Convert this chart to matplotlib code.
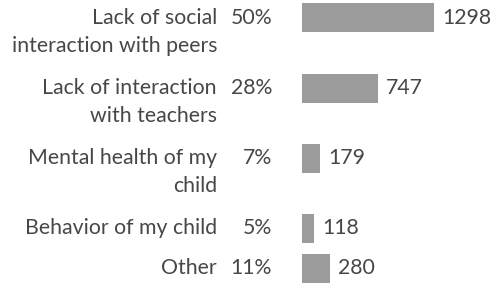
import matplotlib
matplotlib.use("Agg")
import matplotlib.pyplot as plt
from matplotlib.transforms import blended_transform_factory

categories = ["Lack of social\ninteraction with peers",
              "Lack of interaction\nwith teachers",
              "Mental health of my\nchild",
              "Behavior of my child",
              "Other"]
percents = ["50%", "28%", "7%", "5%", "11%"]
counts = [1298, 747, 179, 118, 280]

W, H = 492, 284
fig = plt.figure(figsize=(W / 100, H / 100), dpi=100)
x0 = 302
ax = fig.add_axes([x0 / W, 0, (W - x0) / W, 1])
ax.set_xlim(0, 1298 * (W - x0) / 132)
ax.set_ylim(H, 0)
ax.axis("off")

ypos = [17.5, 88, 158, 228, 268]
ax.barh(ypos, counts, height=29, color="#9b9b9b", align="center")

tc = "#474747"
fs = 15.3
font = "Lato"
tr = blended_transform_factory(fig.transFigure, ax.transData)
for yc, cat, pct, c in zip(ypos, categories, percents, counts):
    for i, line in enumerate(cat.split("\n")):
        ax.text(217 / W, yc + i * 28, line, transform=tr, ha="right", va="center",
                fontsize=fs, color=tc, family=font)
    ax.text(272 / W, yc, pct, transform=tr, ha="right", va="center",
            fontsize=fs, color=tc, family=font)
    ax.annotate(str(c), (c, yc), xytext=(8, 0), textcoords="offset pixels",
                ha="left", va="center", fontsize=fs, color=tc, family=font)

fig.savefig("out.png", dpi=100)
